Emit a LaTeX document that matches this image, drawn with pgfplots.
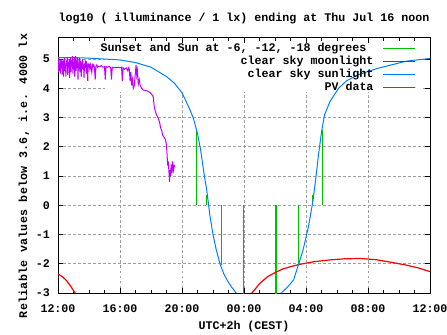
\documentclass[border=0pt]{standalone}
\usepackage{pgfplots}
\pgfplotsset{compat=1.18}
\usepackage{fontspec}
\setmainfont{Liberation Mono}
\newcommand\gf{\fontsize{11.7}{14}\selectfont\bfseries}
\definecolor{gpgreen}{RGB}{0,192,0}
\definecolor{gpblue}{RGB}{0,128,255}
\definecolor{gppurple}{RGB}{192,0,255}
\definecolor{gridgray}{RGB}{160,160,160}
\begin{document}
\begin{tikzpicture}
\path[use as bounding box] (-58bp,-42bp) rectangle (389bp,293bp);
\begin{axis}[
  scale only axis, width=372bp, height=255bp,
  anchor=south west, at={(0,0)},
  xmin=0, xmax=24, ymin=-3, ymax=5.72,
  xtick={0,4,...,24},
  xticklabels={12:00,16:00,20:00,00:00,04:00,08:00,12:00},
  minor x tick num=3,
  ytick={-3,-2,-1,0,1,2,3,4,5},
  yticklabels={-3,-2,-1,0,1,2,3,4,5},
  grid=major,
  major grid style={gridgray, dash pattern=on 2.5bp off 2.5bp, line width=0.8bp},
  axis line style={black, line width=1bp},
  tick style={black, line width=0.8bp},
  major tick length=5bp, minor tick length=3bp,
  tick align=inside,
  xticklabel style={font=\gf, inner sep=0pt, yshift=-12bp},
  yticklabel style={font=\gf, inner sep=0pt, xshift=-8bp},
  title={log10 ( illuminance / 1 lx) ending at Thu Jul 16 noon},
  title style={font=\gf, at={(axis description cs:0.5,1)}, anchor=base, yshift=10.5bp, inner sep=0pt},
  xlabel={UTC+2h (CEST)},
  xlabel style={font=\gf, at={(axis description cs:0.5,0)}, anchor=base, yshift=-36bp, inner sep=0pt},
  ylabel={Reliable values below 3.6, i.e. 4000 lx},
  ylabel style={font=\gf\addfontfeature{LetterSpace=2.5}, at={(axis description cs:-0.0914,0.459)}, anchor=center, inner sep=0pt},
  legend style={at={(axis description cs:1,1)}, anchor=north east, xshift=-14bp, yshift=-5bp,
    draw=none, fill=none, font=\gf, inner sep=0pt,
    nodes={inner sep=0pt, text height=8bp, text depth=2bp}, row sep=3bp, column sep=9bp},
  legend cell align=right,
  legend plot pos=right,
  legend image code/.code={\draw[#1] (0bp,0bp) -- (32bp,0bp);},
  unbounded coords=jump,
]
\fill[white] (axis cs:3.03,3.87) rectangle (axis cs:23.55,5.48);

\addplot[gpgreen, line width=1.3bp] coordinates {
(8.95,0) (8.95,2.55) (8.95,nan)
(9.59,0) (9.59,0.34) (9.59,nan)
(10.54,0) (10.54,-2.05) (10.54,nan)
(11.96,0) (11.96,-3.2) (11.96,nan)
(14.06,0) (14.06,-3.2) (14.06,nan)
(15.5,0) (15.5,-2.05) (15.5,nan)
(16.41,0) (16.41,0.34) (16.41,nan)
(17.05,0) (17.05,2.57)
};
\addlegendentry{Sunset and Sun at -6, -12, -18 degrees\phantom{x}}

\addplot[red, line width=1.2bp] coordinates {
(0,-2.35) (0.3,-2.45) (0.5,-2.55) (0.8,-2.75) (1.1,-3.0) (1.1,nan)
(12.5,-3.0) (12.75,-2.85) (13.0,-2.68) (13.5,-2.45) (14.0,-2.3) (14.5,-2.18)
(15.0,-2.1) (15.6,-2.02) (16.5,-1.93) (17.5,-1.87) (18.5,-1.83) (19.5,-1.82)
(20.5,-1.86) (21.5,-1.95) (22.5,-2.05) (23.3,-2.15) (24,-2.27)
};
\addlegendentry{clear sky moonlight}

\addplot[gpblue, line width=1bp] coordinates {
(0,5.05) (1,5.05) (2,5.03) (3,5.0) (4,4.97) (5,4.88) (6,4.72) (7,4.40)
(7.5,4.18) (8,3.85) (8.5,3.28) (8.75,2.95) (9.0,2.45) (9.2,1.9) (9.4,1.15)
(9.6,0.5) (9.8,-0.35) (10.0,-1.0) (10.2,-1.5) (10.45,-2.0) (10.7,-2.35)
(10.9,-2.55) (11.2,-2.8) (11.5,-3.0) (11.5,nan)
(14.4,-3.0) (14.8,-2.8) (15.2,-2.55) (15.5,-2.05) (15.8,-1.55) (16.15,-0.75)
(16.45,0.15) (16.65,1.0) (16.8,1.7) (17.0,2.5) (17.2,3.1) (17.55,3.55)
(18.1,4.0) (18.6,4.25) (19.3,4.45) (20.6,4.68) (22.5,4.93) (24,5.02)
};
\addlegendentry{clear sky sunlight}

\addplot[gppurple, line width=1bp] coordinates {
(0.00,4.95) (0.03,4.55) (0.06,5.05) (0.09,4.60) (0.12,4.85) (0.15,4.50)
(0.18,5.00) (0.21,4.70) (0.24,4.95) (0.27,4.45) (0.30,4.85) (0.33,4.95)
(0.36,4.40) (0.39,4.90) (0.42,5.05) (0.45,4.60) (0.48,4.85) (0.51,4.40)
(0.54,4.95) (0.57,4.75) (0.60,5.05) (0.63,4.45) (0.66,4.90) (0.69,4.70)
(0.72,5.00) (0.75,4.35) (0.78,4.85) (0.81,5.05) (0.84,4.55) (0.87,4.95)
(0.90,4.75) (0.93,5.10) (0.96,4.50) (0.99,4.90) (1.02,4.65) (1.05,5.05)
(1.08,4.40) (1.11,4.85) (1.14,5.10) (1.17,4.60) (1.20,4.95) (1.23,4.75)
(1.26,5.05) (1.29,4.30) (1.32,4.85) (1.35,4.70) (1.38,5.05) (1.41,4.55)
(1.44,4.80) (1.47,4.95) (1.50,4.40) (1.53,4.80) (1.56,4.75) (1.59,5.00)
(1.62,4.65) (1.65,4.80) (1.68,4.35) (1.71,4.85) (1.74,4.70) (1.77,4.95)
(1.80,4.75) (1.83,4.50) (1.86,4.80) (1.89,4.70) (1.92,4.25) (1.95,4.85)
(1.98,4.75) (2.02,4.80) (2.06,4.65) (2.10,4.80) (2.14,4.70) (2.18,4.55)
(2.22,4.80) (2.26,4.75) (2.30,4.80) (2.35,4.72) (2.40,4.30) (2.45,4.75)
(2.50,4.80) (2.55,4.72) (2.60,4.75) (2.70,4.74) (2.80,4.78) (2.90,4.72)
(3.00,4.74) (3.05,4.30) (3.10,4.74) (3.20,4.72) (3.30,4.75) (3.40,4.70)
(3.45,4.30) (3.50,4.72) (3.60,4.70) (3.70,4.72) (3.80,4.70) (3.90,4.72)
(4.00,4.70) (4.10,4.72) (4.15,4.25) (4.20,4.70) (4.30,4.65) (4.40,4.70)
(4.50,4.60) (4.55,4.70) (4.60,4.65) (4.65,4.25) (4.70,4.55) (4.75,4.10)
(4.80,4.30) (4.86,4.00) (4.92,4.10) (4.98,4.45) (5.04,4.80) (5.08,4.45)
(5.12,4.60) (5.18,4.15) (5.24,4.30) (5.29,4.11) (5.40,4.00) (5.50,3.94)
(5.70,3.92) (5.94,3.86) (6.10,3.75) (6.15,3.70) (6.20,3.40) (6.26,3.25)
(6.35,3.10) (6.47,2.97) (6.55,2.85) (6.62,2.65) (6.69,2.57) (6.75,2.40)
(6.85,2.32) (6.90,2.28) (6.95,2.20) (7.00,2.05) (7.03,1.80) (7.07,1.40)
(7.12,1.45) (7.17,1.05) (7.20,0.80) (7.23,1.20) (7.27,1.00) (7.30,1.40)
(7.35,1.10) (7.40,1.50) (7.45,1.20) (7.50,1.35) (7.55,1.30)
};
\addlegendentry{PV data}
\end{axis}
\end{tikzpicture}
\end{document}
